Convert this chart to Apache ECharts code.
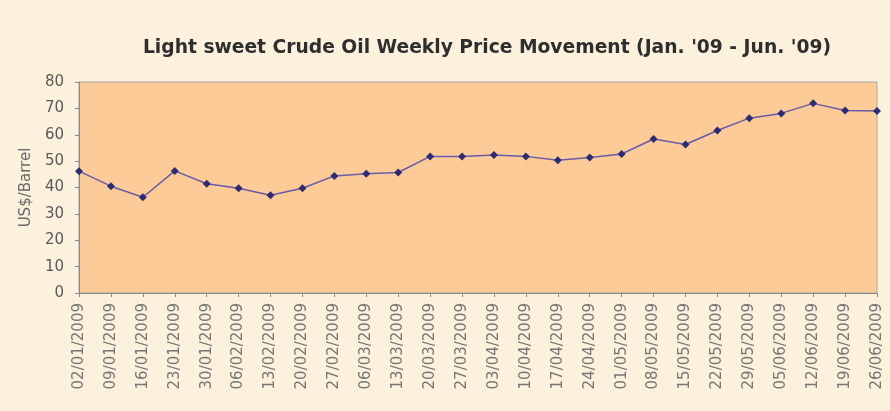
<!DOCTYPE html>
<html>
<head>
<meta charset="utf-8">
<script src="https://cdn.jsdelivr.net/npm/echarts@6/dist/echarts.min.js"></script>
<style>
html,body{margin:0;padding:0;background:#fbf0da;}
#c{width:890px;height:411px;}
</style>
</head>
<body>
<div id="c"></div>
<script>
const titleText = "Light sweet Crude Oil Weekly Price Movement (Jan. '09 - Jun. '09)";
const yAxisName = "US$/Barrel";
const categories = ["02/01/2009","09/01/2009","16/01/2009","23/01/2009","30/01/2009","06/02/2009","13/02/2009","20/02/2009","27/02/2009","06/03/2009","13/03/2009","20/03/2009","27/03/2009","03/04/2009","10/04/2009","17/04/2009","24/04/2009","01/05/2009","08/05/2009","15/05/2009","22/05/2009","29/05/2009","05/06/2009","12/06/2009","19/06/2009","26/06/2009"];
const prices = [46.2,40.5,36.3,46.3,41.4,39.7,37.1,39.7,44.4,45.2,45.7,51.8,51.8,52.3,51.8,50.3,51.4,52.7,58.4,56.3,61.6,66.3,68.1,71.9,69.2,69.0];
const yMin = 0, yMax = 80, yStep = 10;

const chart = echarts.init(document.getElementById('c'));
chart.setOption({
  backgroundColor: '#fbf1dc',
  animation: false,
  title: {
    text: titleText,
    left: 482, top: 34, textAlign: 'center',
    textStyle: {fontFamily: 'DejaVu Sans', fontSize: 18.7, fontWeight: 'bold', color: '#2e2e2e'}
  },
  grid: {left: 79, right: 13, top: 82, bottom: 118, show: true, backgroundColor: '#fccb97', borderColor: '#a8a8a8', borderWidth: 1},
  xAxis: {
    type: 'category', data: categories, boundaryGap: false,
    axisLine: {lineStyle: {color: '#8a8a8a'}},
    axisTick: {show: true, lineStyle: {color: '#8a8a8a'}, length: 4},
    axisLabel: {rotate: 90, interval: 0, color: '#777', fontFamily: 'DejaVu Sans', fontSize: 15, margin: 10},
    splitLine: {show: false}
  },
  yAxis: {
    type: 'value', min: yMin, max: yMax, interval: yStep,
    name: yAxisName, nameLocation: 'middle', nameGap: 45, nameRotate: 90,
    nameTextStyle: {color: '#6a6a6a', fontFamily: 'DejaVu Sans', fontSize: 15},
    axisLine: {show: true, lineStyle: {color: '#8a8a8a'}},
    axisTick: {show: true, lineStyle: {color: '#8a8a8a'}, length: 4},
    axisLabel: {color: '#5a5a5a', fontFamily: 'DejaVu Sans', fontSize: 15, margin: 15},
    splitLine: {show: false}
  },
  series: [{
    type: 'line', data: prices,
    symbol: 'diamond', symbolSize: 8,
    lineStyle: {color: '#6a5aa8', width: 1.5},
    itemStyle: {color: '#2c2c6e'}
  }]
});
</script>
</body>
</html>
